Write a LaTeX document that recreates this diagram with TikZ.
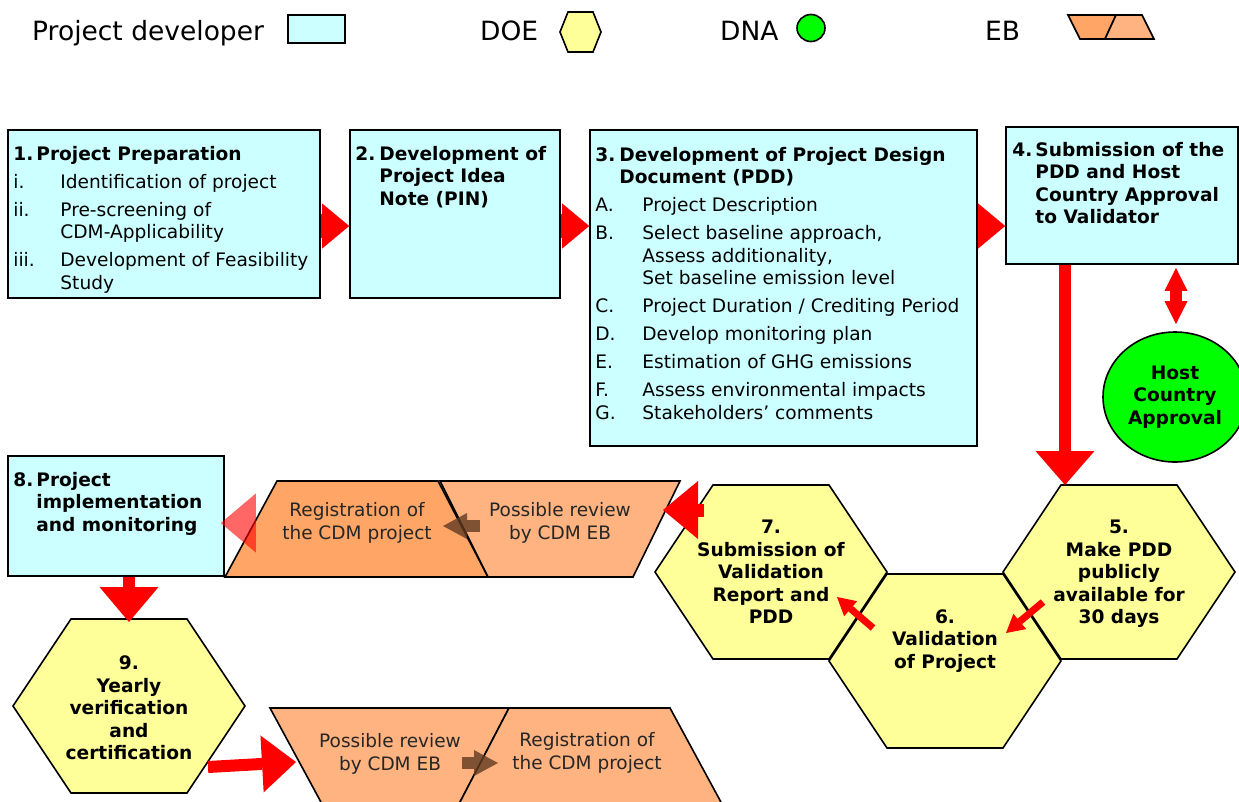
\documentclass[tikz,border=0pt]{standalone}
\usepackage{fontspec}
\setmainfont{DejaVu Sans}
\usetikzlibrary{arrows.meta,calc,fit,shapes.geometric}
\definecolor{pdcyan}{RGB}{204,255,255}
\definecolor{doeyel}{RGB}{255,255,153}
\definecolor{dnagreen}{RGB}{0,255,0}
\definecolor{ebdark}{RGB}{255,166,102}
\definecolor{eblight}{RGB}{255,179,128}
\definecolor{arrred}{RGB}{255,0,0}
\definecolor{smallbrown}{RGB}{96,58,34}
\begin{document}
\begin{tikzpicture}[x=1pt,y=-1pt,
  pdbox/.style={draw=black,line width=1.6pt,fill=pdcyan,inner sep=0pt},
  txt/.style={inner sep=0pt,anchor=base west,font=\fontsize{18.6}{22.5}\selectfont},
  bbtxt/.style={txt,font=\fontsize{18.6}{22.5}\selectfont\bfseries},
  btxt/.style={inner sep=0pt,align=center,font=\fontsize{18.6}{22.5}\selectfont\bfseries},
  ptxt/.style={inner sep=0pt,align=center,text=black!85,font=\fontsize{18.5}{23}\selectfont},
  lgtxt/.style={inner sep=0pt,anchor=base west,font=\fontsize{26.5}{30}\selectfont},
  hexa/.style={draw=black,line width=1.6pt,fill=doeyel},
  ebshape/.style={draw=black,line width=1.6pt},
  redarr/.style args={#1/#2/#3}{draw=arrred,line width=#1,
    -{Triangle[length=#2,width=#3,line width=0pt]}},
  dblarr/.style={draw=arrred,line width=12pt,
    {Triangle[length=23pt,width=23pt,line width=0pt]}-{Triangle[length=23pt,width=23pt,line width=0pt]}},
  brownarr/.style={draw=smallbrown,opacity=0.8,line width=12pt,
    -{Triangle[length=24pt,width=26pt,line width=0pt]}},
  pinkarr/.style={draw=arrred,opacity=0.6,line width=1pt,
    -{Triangle[length=35pt,width=59pt,line width=0pt]}}]
\path[use as bounding box,clip] (0,0) rectangle (1239,801);

% legend
\node[lgtxt] (lgpd) at (32,40) {Project developer};
\node[pdbox,fit={(288,15) (345,43)}] (lgbox) {};
\node[lgtxt] (lgdoe) at (480,40) {DOE};
\draw[hexa] (580.5,32) coordinate (lghex) +(-20.5,0) -- +(-12.5,-20) -- +(12.5,-20)
  -- +(20.5,0) -- +(12.5,20) -- +(-12.5,20) -- cycle;
\node[lgtxt] (lgdna) at (720,40) {DNA};
\node[draw=black,line width=1.6pt,fill=dnagreen,ellipse,inner sep=0pt,
  minimum width=28pt,minimum height=27pt] (lgcirc) at (811,28) {};
\node[lgtxt] (lgeb) at (985,40) {EB};
\draw[ebshape,fill=ebdark] (1068,15) -- (1116,15) -- (1105,39) -- (1080,39) -- cycle;
\draw[ebshape,fill=eblight] (1116,15) -- (1142,15) -- (1154,39) -- (1105,39) -- cycle;

% project developer boxes
\node[pdbox,fit={(8,130) (320,298)}] (b1) {};
\node[pdbox,fit={(350,130) (560,298)}] (b2) {};
\node[pdbox,fit={(590,130) (977,446)}] (b3) {};
\node[pdbox,fit={(1006,127) (1238,264)}] (b4) {};
\node[pdbox,fit={(8,456) (224,576)}] (b8) {};

\node[txt] (t1) at ($(b1.north west)+(6,31)$) {\begin{tabular}[t]{@{}p{47pt}@{}l@{}}
  \multicolumn{2}{@{}l@{}}{\bfseries\makebox[23pt][l]{1.}Project Preparation}\\[5.5pt]
  i. & Identification of project\\[5.5pt]
  ii. & Pre-screening of\\
      & CDM-Applicability\\[5.5pt]
  iii. & Development of Feasibility\\
       & Study
  \end{tabular}};
\node[bbtxt] (t2) at ($(b2.north west)+(6,31)$) {\begin{tabular}[t]{@{}p{24pt}@{}l@{}}
  2. & Development of\\ & Project Idea\\ & Note (PIN)\end{tabular}};
\node[txt] (t3) at ($(b3.north west)+(6,32)$) {\begin{tabular}[t]{@{}p{47pt}@{}l@{}}
  \multicolumn{2}{@{}l@{}}{\bfseries\makebox[24pt][l]{3.}Development of Project Design}\\
  \multicolumn{2}{@{}l@{}}{\bfseries\hspace*{24pt}Document (PDD)}\\[5.5pt]
  A. & Project Description\\[5.5pt]
  B. & Select baseline approach,\\
     & Assess additionality,\\
     & Set baseline emission level\\[5.5pt]
  C. & Project Duration / Crediting Period\\[5.5pt]
  D. & Develop monitoring plan\\[5.5pt]
  E. & Estimation of GHG emissions\\[5.5pt]
  F. & Assess environmental impacts\\[0.5pt]
  G. & Stakeholders’ comments
  \end{tabular}};
\node[bbtxt] (t4) at ($(b4.north west)+(7,30)$) {\begin{tabular}[t]{@{}p{23pt}@{}l@{}}
  4. & Submission of the\\ & PDD and Host\\ & Country Approval\\ & to Validator\end{tabular}};
\node[bbtxt] (t8) at ($(b8.north west)+(6,31)$) {\begin{tabular}[t]{@{}p{23pt}@{}l@{}}
  8. & Project\\ & implementation\\ & and monitoring\end{tabular}};

% DNA
\node[draw=black,line width=1.6pt,fill=dnagreen,ellipse,inner sep=0pt,
  minimum width=144pt,minimum height=130pt,btxt] (hc) at (1175,397) {Host\\Country\\Approval};

% DOE hexagons
\foreach \n/\x/\y in {5/1119/572, 7/771/572, 6/945/661, 9/129/706}
  \draw[hexa] (\x,\y) coordinate (hx\n) +(-116,0) -- +(-58,-87) coordinate (hx\n-nw)
    -- +(58,-87) -- +(116,0) -- +(58,87) -- +(-58,87) -- cycle;
\node[btxt] (h5) at (1119,574) {5.\\Make PDD\\publicly\\available for\\30 days};
\node[btxt] (h6) at (945,641) {6.\\Validation\\of Project};
\node[btxt] (h7) at (771,572) {7.\\Submission of\\Validation\\Report and\\PDD};
\node[btxt] (h9) at (129,708) {9.\\Yearly\\verification\\and\\certification};

% EB
\draw[ebshape,fill=ebdark] (277,481) -- (438,481) -- (488,577) -- (225,577) -- cycle;
\draw[ebshape,fill=eblight] (440,481) -- (680,481) -- (633,577) -- (488,577) -- cycle;
\draw[ebshape,fill=eblight] (270,708) -- (509,708) -- (459,804) -- (322,804) -- cycle;
\draw[ebshape,fill=eblight] (509,708) -- (670,708) -- (722,804) -- (459,804) -- cycle;
\node[ptxt] (p1) at (357,523) {Registration of\\the CDM project};
\node[ptxt] (p2) at (560,523) {Possible review\\by CDM EB};
\node[ptxt] (p3) at (390,754) {Possible review\\by CDM EB};
\node[ptxt] (p4) at (587,753) {Registration of\\the CDM project};

% arrows
\coordinate (row1) at (0,226);
\draw[redarr=24pt/27pt/45pt] (b1.east |- row1) -- (b2.west |- row1);
\draw[redarr=24pt/27pt/45pt] (b2.east |- row1) -- (b3.west |- row1);
\draw[redarr=24pt/27pt/45pt] (b3.east |- row1) -- (b4.west |- row1);
\draw[redarr=12pt/34pt/59pt] ($(b4.south -| hx5-nw)+(4,0)$) -- ($(hx5-nw)+(4,0)$);
\draw[dblarr] ($(b4.south -| hc)+(1,3)$) -- ($(hc.north)+(1,-7)$);
\draw[redarr=7pt/18pt/20pt] ($(hx5)+(-76,30)$) -- ($(hx6)+(61,-28)$);
\draw[redarr=7pt/18pt/20pt] ($(hx6)+(-72,-33)$) -- ($(hx7)+(66,25)$);
\draw[redarr=13pt/35pt/58pt] ($(hx7)+(-67,-62)$) -- ($(p2)+(103,-13)$);
\draw[brownarr] ($(p2)+(-80,3)$) -- ($(p1)+(86,3)$);
\draw[pinkarr] ($(p1)+(-102,0)$) -- ($(b8.east)+(-4,7)$);
\draw[redarr=12pt/35pt/59pt] (b8.south -| hx9) -- ($(hx9)+(0,-84)$);
\draw[redarr=12pt/34pt/57pt] ($(hx9)+(79,61)$) -- ($(p3)+(-94,8)$);
\draw[brownarr] ($(p3)+(72,9)$) -- ($(p4)+(-89,10)$);
\end{tikzpicture}
\end{document}
